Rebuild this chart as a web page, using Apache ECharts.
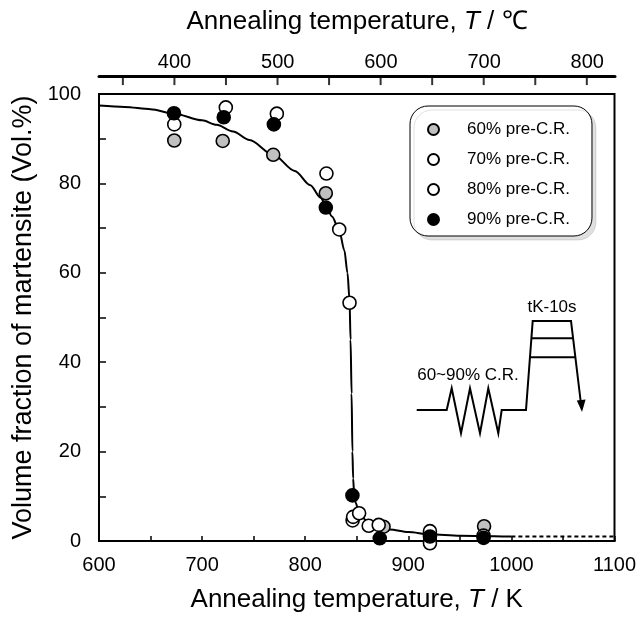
<!DOCTYPE html>
<html>
<head>
<meta charset="utf-8">
<script src="https://cdn.jsdelivr.net/npm/echarts@6/dist/echarts.min.js"></script>
<style>
  html, body { margin: 0; padding: 0; background: #fff; }
  #chart { width: 639px; height: 628px; }
</style>
</head>
<body>
<div id="chart"></div>
<script>
// fitted curve (K, vol.%)
const curveT = [600, 625, 650, 673, 700, 714, 730, 746, 769, 790, 805, 815, 820, 826, 833, 838, 841, 843, 844, 845, 845.8, 846.5, 847.5, 849, 852, 856, 860, 870, 882, 900, 921, 950, 1000];
const curveV = [97.4, 97.1, 96.6, 95.6, 94.1, 93.1, 91.6, 89.7, 86.4, 82.8, 79.6, 76.8, 75.1, 72.6, 69.5, 65, 60, 54, 45, 33, 20, 14, 10.5, 8.5, 6.6, 5.2, 4.3, 3.2, 2.6, 2.0, 1.5, 1.2, 1.0];
const dashT = [1000, 1100];
const dashV = [1.0, 1.0];

// measured points
const pts60 = [[673, 89.6], [720, 89.5], [769, 86.4], [820, 77.8], [876, 3.2], [921, 1.6], [973.5, 3.3]];
const pts70 = [[673, 93.2], [723, 97.0], [772.5, 95.6], [820.6, 82.2], [833, 69.7], [846, 4.6], [861.6, 3.4], [921, 2.2], [973, 1.2]];
const pts80 = [[843, 53.3], [846.5, 5.4], [852.3, 6.2], [871.3, 3.6], [921, 0.0], [921, -0.5]];
const pts90 = [[672.7, 95.7], [721, 94.8], [769.6, 93.2], [820, 74.6], [845.8, 10.2], [872.3, 0.6], [921, 1.0], [973, 0.7]];

const seriesNames = ['60% pre-C.R.', '70% pre-C.R.', '80% pre-C.R.', '90% pre-C.R.'];
const seriesFill = ['#c0c0c0', '#ffffff', '#ffffff', '#000000'];

// Celsius axis ticks (top)
const cTicks = [350, 400, 450, 500, 550, 600, 650, 700, 750, 800];

const font = 'Liberation Sans, Arial, sans-serif';
const chart = echarts.init(document.getElementById('chart'));

function scatter(name, data, fill) {
  return {
    name: name,
    type: 'scatter',
    xAxisIndex: 0,
    yAxisIndex: 0,
    data: data,
    symbol: 'circle',
    symbolSize: 13,
    clip: false,
    z: 5,
    itemStyle: { color: fill, borderColor: '#000', borderWidth: 1.6, opacity: 1 }
  };
}

const titleRich = {
  a: { fontSize: 26, color: '#000', fontFamily: font },
  i: { fontSize: 26, color: '#000', fontFamily: font, fontStyle: 'italic' }
};

chart.setOption({
  animation: false,
  textStyle: { fontFamily: font },
  grid: [
    { left: 99, right: 24, top: 94, bottom: 87, show: true, borderColor: '#000', borderWidth: 2 },
    // thin strip holding the Celsius axis above the plot
    { left: 99, right: 24, top: 76, height: 8 }
  ],
  xAxis: [
    {
      type: 'value', gridIndex: 0, position: 'bottom', min: 600, max: 1100, interval: 50,
      axisLine: { lineStyle: { color: '#000', width: 2 } },
      axisTick: { inside: true, length: 5, lineStyle: { color: '#000', width: 1.5 } },
      axisLabel: {
        fontSize: 20, color: '#000', margin: 14, fontFamily: font,
        formatter: (v) => (v % 100 === 0 ? String(v) : '')
      },
      splitLine: { show: false },
      name: '{a|Annealing temperature, }{i|T}{a| / K}',
      nameLocation: 'middle', nameGap: 46,
      nameTextStyle: { rich: titleRich }
    },
    {
      // Celsius scale = K - 273.15
      type: 'value', gridIndex: 1, position: 'top', min: 600 - 273.15, max: 1100 - 273.15,
      splitNumber: 10, minInterval: 50, maxInterval: 50,
      axisLine: { show: true, onZero: false, lineStyle: { color: '#000', width: 3 } },
      axisTick: { show: false },
      axisLabel: {
        show: true, fontSize: 20, color: '#000', margin: 4, fontFamily: font,
        showMinLabel: false, showMaxLabel: false,
        formatter: (v) => (Math.abs(v % 100) < 1e-6 ? String(v) : '')
      },
      splitLine: { show: false },
      name: '{a|Annealing temperature, }{i|T}{a| / ℃}',
      nameLocation: 'middle', nameGap: 41,
      nameTextStyle: { rich: titleRich }
    }
  ],
  yAxis: [
    {
      type: 'value', gridIndex: 0, min: 0, max: 100, interval: 10,
      axisLine: { show: true, lineStyle: { color: '#000', width: 2 } },
      axisTick: { show: true, inside: true, length: 7, lineStyle: { color: '#000', width: 1.5 } },
      axisLabel: {
        fontSize: 20, color: '#000', margin: 18, fontFamily: font,
        formatter: (v) => (v % 20 === 0 ? String(v) : '')
      },
      splitLine: { show: false },
      name: 'Volume fraction of martensite (Vol.%)',
      nameLocation: 'middle', nameGap: 51,
      nameTextStyle: { fontSize: 27, color: '#000', fontFamily: font }
    },
    { type: 'value', gridIndex: 1, min: 0, max: 1, show: false }
  ],
  legend: {
    data: seriesNames,
    orient: 'vertical',
    left: 410, top: 106,
    padding: [15, 22, 8, 17],
    itemWidth: 11, itemHeight: 11, itemGap: 13,
    backgroundColor: '#fff',
    borderColor: '#000', borderWidth: 1, borderRadius: 18,
    shadowColor: 'rgba(0,0,0,0.12)', shadowOffsetX: 4, shadowOffsetY: 4, shadowBlur: 0,
    textStyle: { fontSize: 17, color: '#000', fontFamily: font, padding: [0, 0, 0, 23] }
  },
  graphic: [
    {
      type: 'polyline', z: 10,
      shape: { points: [[416.7, 410], [446.7, 410], [451.7, 388.3], [461, 433.3], [470, 388.3], [480, 433.3], [488.3, 388.3], [498.3, 433.3], [501.7, 410], [526, 410], [532.7, 321], [571, 321], [581, 404]] },
      style: { stroke: '#000', lineWidth: 2, fill: null }
    },
    { type: 'line', z: 10, shape: { x1: 531.4, y1: 338.3, x2: 573, y2: 338.3 }, style: { stroke: '#000', lineWidth: 2 } },
    { type: 'line', z: 10, shape: { x1: 530.1, y1: 357.3, x2: 575.3, y2: 357.3 }, style: { stroke: '#000', lineWidth: 2 } },
    { type: 'polygon', z: 10, shape: { points: [[582, 412], [576.8, 400.6], [585.6, 399.6]] }, style: { fill: '#000' } },
    { type: 'text', z: 10, x: 552, y: 307, style: { text: 'tK-10s', font: '17px ' + font, fill: '#000', align: 'center', verticalAlign: 'middle' } },
    { type: 'text', z: 10, x: 468, y: 375, style: { text: '60~90% C.R.', font: '17px ' + font, fill: '#000', align: 'center', verticalAlign: 'middle' } }
  ],
  series: [
    {
      type: 'line', xAxisIndex: 0, yAxisIndex: 0, data: curveT.map((t, i) => [t, curveV[i]]),
      smooth: 0.3, smoothMonotone: 'x', symbol: 'none', z: 2,
      lineStyle: { color: '#000', width: 2 }
    },
    {
      type: 'line', xAxisIndex: 0, yAxisIndex: 0, data: dashT.map((t, i) => [t, dashV[i]]),
      symbol: 'none', z: 2,
      lineStyle: { color: '#000', width: 2, type: [4, 3] }
    },
    {
      // Celsius tick marks hanging under the top axis line (placed on the kelvin scale, above 100 %)
      type: 'scatter', xAxisIndex: 0, yAxisIndex: 0, silent: true, clip: false, z: 6,
      data: cTicks.map((c) => [c + 273.15, 103.0]),
      symbol: 'rect', symbolSize: [2, 9],
      itemStyle: { color: '#000' }
    },
    scatter(seriesNames[0], pts60, seriesFill[0]),
    scatter(seriesNames[1], pts70, seriesFill[1]),
    scatter(seriesNames[2], pts80, seriesFill[2]),
    scatter(seriesNames[3], pts90, seriesFill[3])
  ]
});
</script>
</body>
</html>
